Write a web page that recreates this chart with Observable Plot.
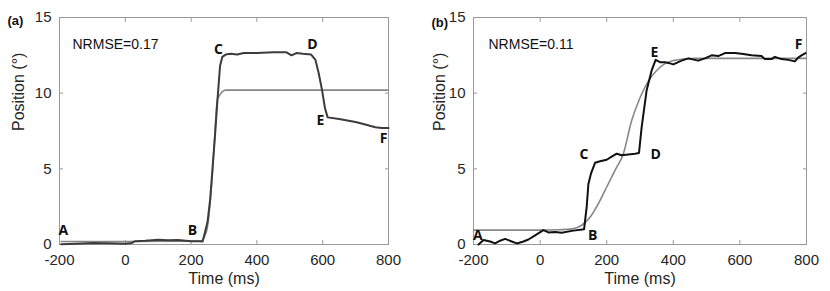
<!DOCTYPE html>
<html>
<head>
<meta charset="utf-8">
<script src="https://cdn.jsdelivr.net/npm/d3@7"></script>
<script src="https://cdn.jsdelivr.net/npm/@observablehq/plot@0.6"></script>
<style>
  body { margin: 0; background: #fff; }
  #wrap { display: flex; width: 830px; height: 291px; }
  svg { font-family: "Liberation Sans", Arial, sans-serif; }
</style>
</head>
<body>
<div id="wrap"></div>
<script>
const xTicks = [-200, 0, 200, 400, 600, 800];
const yTicks = [0, 5, 10, 15];

// Panel (a)
const aMeasT = [-195,-150,-100,-50,0,20,30,60,100,130,160,200,225,235,242,250,258,265,272,280,288,295,305,320,340,360,380,400,450,490,505,520,540,565,578,588,598,607,615,650,700,735,760,780,800];
const aMeasV = [0.02,0.05,0.1,0.08,0.05,0.1,0.22,0.25,0.32,0.28,0.3,0.22,0.22,0.2,0.8,1.5,3.0,5.0,7.0,9.5,11.8,12.4,12.55,12.6,12.55,12.65,12.65,12.65,12.7,12.7,12.5,12.65,12.6,12.55,12.2,11.3,10.2,9.0,8.4,8.3,8.1,7.9,7.75,7.7,7.7];
const aModelT = [-195,0,230,240,250,258,265,272,280,288,295,305,320,800];
const aModelV = [0.2,0.2,0.22,0.5,1.2,2.8,4.8,7.2,9.6,9.9,10.1,10.2,10.2,10.2];
const aLetters = ["A","B","C","D","E","F"];
const aLetterT = [-188,204,283,569,593,785];
const aLetterV = [0.93,0.93,12.9,13.2,8.2,7.0];

// Panel (b)
const bMeasT = [-185,-170,-150,-135,-120,-105,-85,-70,-50,-35,-15,10,25,45,65,95,132,140,145,153,165,180,200,215,230,245,265,285,297,305,320,335,347,360,375,385,400,425,445,475,495,515,535,555,585,605,635,665,675,695,705,725,745,765,775,785,797];
const bMeasV = [0,0.3,0.2,0.07,0.25,0.37,0.2,0.07,0.2,0.33,0.6,0.95,0.8,0.83,0.77,0.9,1.0,2.5,4.0,4.7,5.4,5.5,5.6,5.8,6.0,5.9,5.95,6.0,6.05,7.75,10.2,11.5,12.2,12.05,12.05,12.0,11.9,12.15,12.3,12.15,12.3,12.5,12.45,12.65,12.65,12.6,12.5,12.45,12.25,12.25,12.4,12.25,12.2,12.1,12.35,12.5,12.65];
const bModelT = [-200,0,50,100,125,150,175,200,225,250,275,300,325,350,375,400,430,470,520,800];
const bModelV = [0.95,0.95,0.97,1.05,1.27,1.8,2.7,3.8,4.9,6.0,8.2,9.7,10.8,11.5,11.95,12.15,12.25,12.3,12.3,12.3];
const bLetters = ["A","B","C","D","E","F"];
const bLetterT = [-187,158,132,347,343,776];
const bLetterV = [0.6,0.6,5.95,5.95,12.7,13.2];

const textColor = "#262626";
const axisColor = "#999999";
const fmt = d => String(d);

function panel(o) {
  return Plot.plot({
    width: 415,
    height: 291,
    marginLeft: o.ml,
    marginRight: o.mr,
    marginTop: 17,
    marginBottom: 47,
    style: { fontFamily: '"Liberation Sans", Arial, sans-serif', overflow: "visible" },
    x: { domain: [-200, 800] },
    y: { domain: [0, 15] },
    marks: [
      Plot.frame({ stroke: axisColor }),
      Plot.axisX(xTicks, { anchor: "bottom", tickSize: 0, tickPadding: 10, fontSize: 15, fill: textColor, tickFormat: fmt, label: null }),
      Plot.axisX(xTicks, { anchor: "bottom", tickSize: -4, tickFormat: () => "", stroke: axisColor, label: null }),
      Plot.axisX(xTicks, { anchor: "top", tickSize: -4, tickFormat: () => "", stroke: axisColor, label: null }),
      Plot.axisY(yTicks, { anchor: "left", tickSize: 0, tickPadding: 8, fontSize: 15, fill: textColor, tickFormat: fmt, label: null }),
      Plot.axisY(yTicks, { anchor: "left", tickSize: -4, tickFormat: () => "", stroke: axisColor, label: null }),
      Plot.axisY(yTicks, { anchor: "right", tickSize: -4, tickFormat: () => "", stroke: axisColor, label: null }),
      Plot.line(o.modelT, { x: o.modelT, y: o.modelV, stroke: "#878787", strokeWidth: 1.6, curve: "monotone-x" }),
      Plot.line(o.measT, { x: o.measT, y: o.measV, stroke: o.measColor, strokeWidth: 2 }),
      Plot.text(o.letters, { x: o.letterT, y: o.letterV, text: d => d, fontWeight: 700, fontSize: 14, fill: "#111", fontFamily: "'Open Sans', sans-serif" }),
      Plot.text([o.nrmse], { frameAnchor: "top-left", dx: o.nx, dy: 22, textAnchor: "start", fontSize: 14, fill: "#111" }),
      Plot.text([o.tag], { frameAnchor: "top-left", dx: o.tagDx, dy: o.tagDy, textAnchor: "start", fontSize: 13, fontWeight: 700, fill: "#111" }),
      Plot.text(["Time (ms)"], { frameAnchor: "bottom", dy: 39, fontSize: 16, fill: textColor }),
      Plot.text(["Position (°)"], { frameAnchor: "left", dx: o.ylDx, rotate: -90, fontSize: 16, fill: textColor })
    ]
  });
}

const wrap = document.getElementById("wrap");
wrap.appendChild(panel({
  ml: 59, mr: 27, measT: aMeasT, measV: aMeasV, modelT: aModelT, modelV: aModelV,
  letters: aLetters, letterT: aLetterT, letterV: aLetterV, measColor: "#3c3c3c",
  nrmse: "NRMSE=0.17", nx: 13, tag: "(a)", tagDx: -52, tagDy: -2, ylDx: -41
}));
wrap.appendChild(panel({
  ml: 58, mr: 24, measT: bMeasT, measV: bMeasV, modelT: bModelT, modelV: bModelV,
  letters: bLetters, letterT: bLetterT, letterV: bLetterV, measColor: "#111111",
  nrmse: "NRMSE=0.11", nx: 15, tag: "(b)", tagDx: -42, tagDy: 0, ylDx: -34
}));
</script>
</body>
</html>
